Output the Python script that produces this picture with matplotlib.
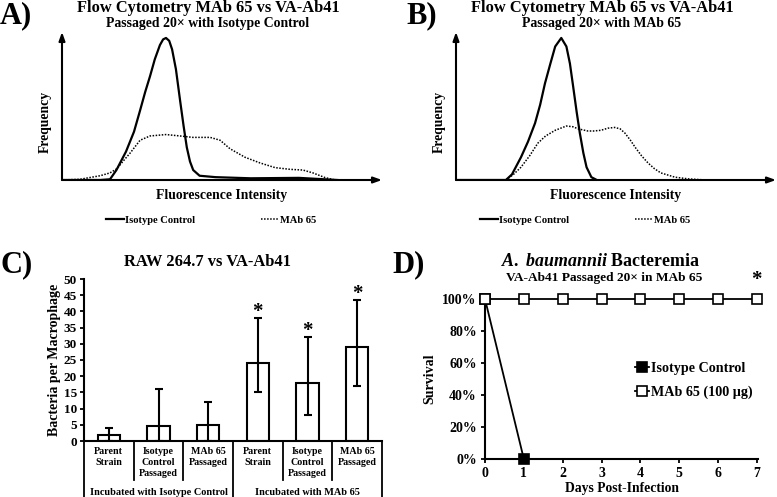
import matplotlib
matplotlib.use("Agg")
import matplotlib.pyplot as plt
import matplotlib.transforms as mtransforms
import numpy as np

plt.rcParams['font.family'] = ['Liberation Serif', 'DejaVu Serif']
plt.rcParams['font.weight'] = 'bold'
plt.rcParams['axes.labelweight'] = 'bold'
plt.rcParams['mathtext.fontset'] = 'custom'
plt.rcParams['mathtext.it'] = 'Liberation Serif:italic:bold'
plt.rcParams['mathtext.rm'] = 'Liberation Serif:bold'

# ---------------- data ----------------
# Panel A: flow cytometry, passaged with isotype control (relative intensity 0-100, frequency 0-1)
a_iso_x = [0, 12, 15, 17, 20, 22.5, 24.4, 26, 27.5, 29, 30.6, 31.6, 32.5, 33.5, 34.4, 35.6, 36.9, 38, 39, 40, 41, 43, 48, 59, 74, 82, 86]
a_iso_y = [0, 0, 0.005, 0.07, 0.2, 0.34, 0.49, 0.62, 0.73, 0.85, 0.95, 0.99, 1.0, 0.98, 0.92, 0.78, 0.56, 0.38, 0.23, 0.13, 0.07, 0.03, 0.02, 0.012, 0.015, 0.005, 0]
a_mab_x = [0, 5.6, 11.9, 15, 17.2, 19, 21.3, 24.4, 27.5, 32.5, 36.9, 40.9, 46.3, 49.4, 52.5, 57.2, 61.9, 66.6, 71.3, 75.3, 78.4, 82.2, 85.3]
a_mab_y = [0, 0.005, 0.03, 0.05, 0.08, 0.13, 0.19, 0.28, 0.31, 0.32, 0.31, 0.30, 0.30, 0.28, 0.22, 0.16, 0.12, 0.087, 0.075, 0.07, 0.05, 0.017, 0]

# Panel B: flow cytometry, passaged with MAb 65
b_iso_x = [0, 15.6, 17.5, 20.3, 22.5, 24.7, 26.3, 27.8, 29.5, 31, 32.9, 34.5, 35.6, 36.6, 37.7, 38.7, 39.8, 40.8, 42.3, 44]
b_iso_y = [0, 0, 0.04, 0.16, 0.27, 0.40, 0.53, 0.68, 0.82, 0.94, 1.0, 0.94, 0.82, 0.66, 0.48, 0.33, 0.19, 0.09, 0.02, 0]
b_mab_x = [15.6, 18, 20.3, 23, 25.6, 28, 31, 34.5, 36.5, 38.2, 41.2, 43, 45.3, 47.5, 49.6, 51.3, 52.8, 54.5, 56, 58, 60, 62, 64, 68.4, 72.5, 78]
b_mab_y = [0, 0.04, 0.09, 0.17, 0.26, 0.31, 0.35, 0.38, 0.375, 0.36, 0.345, 0.345, 0.35, 0.365, 0.37, 0.36, 0.33, 0.28, 0.23, 0.17, 0.12, 0.08, 0.05, 0.02, 0.008, 0]

flow_legend = ["Isotype Control", "MAb 65"]

# Panel C: bacteria per macrophage
c_categories = ["Parent\nStrain", "Isotype\nControl\nPassaged", "MAb 65\nPassaged",
                "Parent\nStrain", "Isotype\nControl\nPassaged", "MAb 65\nPassaged"]
c_groups = ["Incubated with Isotype Control", "Incubated with MAb 65"]
c_values = [2, 4.5, 5, 24, 18, 29]
c_err_low = [0, 0, 0, 15, 8, 17]
c_err_high = [4, 16, 12, 38, 32, 43.5]
c_signif = [False, False, False, True, True, True]

# Panel D: survival
d_days = [0, 1, 2, 3, 4, 5, 6, 7]
d_iso_days = [0, 1]
d_iso_surv = [1.0, 0.0]
d_mab_surv = [1.0, 1.0, 1.0, 1.0, 1.0, 1.0, 1.0, 1.0]
d_yticks = [0, 0.2, 0.4, 0.6, 0.8, 1.0]

# ---------------- figure ----------------
W, H = 777, 497
fig = plt.figure(figsize=(W / 100, H / 100), dpi=100)


def fx(px):
    return px / W


def fy(py):
    return 1 - py / H


def axes_px(left, right, top, bottom):
    return fig.add_axes([fx(left), fy(bottom), (right - left) / W, (bottom - top) / H])


def flow_panel(left, iso_x, iso_y, mab_x, mab_y, title, subtitle, letter, letter_x, legend_cx):
    ax = axes_px(left, left + 320, 32, 180)
    ax.set_xlim(0, 100)
    ax.set_ylim(0, 1.042)
    for s in ax.spines.values():
        s.set_visible(False)
    ax.set_xticks([])
    ax.set_yticks([])
    ax.patch.set_alpha(0)
    ap = dict(arrowstyle='-|>,head_length=0.5,head_width=0.18', lw=1.5, color='black',
              shrinkA=0, shrinkB=0)
    ax.annotate('', xy=(1, 0), xytext=(0, 0), xycoords='axes fraction', arrowprops=ap)
    ax.annotate('', xy=(0, 1), xytext=(0, 0), xycoords='axes fraction', arrowprops=ap)
    ax.plot(iso_x, iso_y, color='black', lw=1.6, label=flow_legend[0], solid_joinstyle='round')
    ax.plot(mab_x, mab_y, color='black', lw=1.1, ls=(0, (1, 1)), label=flow_legend[1])
    ax.text(0.5, -0.06, "Fluorescence Intensity", transform=ax.transAxes, ha='center', va='top',
            fontsize=9.8, fontweight='bold')
    ax.text(-0.053, 0.39, "Frequency", transform=ax.transAxes, ha='center', va='center',
            rotation=90, fontsize=9.8, fontweight='bold')
    cx = left + 146
    fig.text(fx(cx), fy(8), title, ha='center', va='center', fontsize=11.8, fontweight='bold')
    fig.text(fx(cx), fy(23), subtitle, ha='center', va='center', fontsize=9.9, fontweight='bold')
    fig.text(fx(letter_x), fy(16), letter, ha='left', va='center', fontsize=22, fontweight='bold')
    ax.legend(loc='center', bbox_to_anchor=((legend_cx - left) / 320, (180 - 220) / 148),
              ncol=2, frameon=False, fontsize=7.6, handlelength=1.7, handletextpad=0.1,
              columnspacing=6.2, borderpad=0)
    return ax


flow_panel(62, a_iso_x, a_iso_y, a_mab_x, a_mab_y, "Flow Cytometry MAb 65 vs VA-Ab41",
           "Passaged 20\u00d7 with Isotype Control", "A)", 0, 211)
flow_panel(456, b_iso_x, b_iso_y, b_mab_x, b_mab_y, "Flow Cytometry MAb 65 vs VA-Ab41",
           "Passaged 20\u00d7 with MAb 65", "B)", 406, 585)

# ---------------- Panel C ----------------
axc = axes_px(84, 382, 279, 441)
xpos = np.arange(len(c_values))
vals = np.array(c_values)
lo = vals - np.array(c_err_low)
hi = np.array(c_err_high) - vals
axc.bar(xpos, vals, width=0.45, color='white', edgecolor='black', lw=1.5, zorder=2)
axc.errorbar(xpos, vals, yerr=[lo, hi], fmt='none', ecolor='black', elinewidth=1.5,
             capsize=3, capthick=1.5, zorder=3)
for i, sig in enumerate(c_signif):
    if sig:
        axc.text(xpos[i], c_err_high[i] + 1.8, "*", ha='center', va='center', fontsize=15,
                 fontweight='bold')
axc.set_xlim(-0.5, len(c_values) - 0.5)
axc.set_ylim(0, 50)
axc.set_yticks(np.arange(0, 51, 5))
axc.set_xticks([])
axc.spines['top'].set_visible(False)
axc.spines['right'].set_visible(False)
axc.spines['left'].set_linewidth(1.5)
axc.spines['bottom'].set_linewidth(1.5)
axc.tick_params(axis='y', direction='out', length=3, width=1.3, labelsize=9.5, pad=2)
for lab in axc.get_yticklabels():
    lab.set_fontweight('bold')
axc.set_ylabel("Bacteria per Macrophage", fontsize=10, fontweight='bold', labelpad=2)
trans = mtransforms.blended_transform_factory(axc.transData, axc.transAxes)
n = len(c_values)
for k in range(n + 1):
    edge = k - 0.5
    bottom = -0.346 if k % 3 == 0 else -0.24
    axc.plot([edge, edge], [0, bottom], transform=trans, color='black', lw=1.3, clip_on=False)
for i, lab in enumerate(c_categories):
    axc.text(xpos[i], -0.04, lab, transform=trans, ha='center', va='top', fontsize=7.2,
             fontweight='bold', linespacing=1.25)
for g, lab in enumerate(c_groups):
    axc.text(g * 3 + 1, -0.315, lab, transform=trans, ha='center', va='center', fontsize=7.4,
             fontweight='bold')
fig.text(fx(207), fy(262), "RAW 264.7 vs VA-Ab41", ha='center', va='center', fontsize=11.9,
         fontweight='bold')
fig.text(fx(0), fy(265), "C)", ha='left', va='center', fontsize=22, fontweight='bold')

# ---------------- Panel D ----------------
axd = axes_px(485, 758, 299, 459)
axd.plot(d_iso_days, d_iso_surv, color='black', lw=1.3, marker='s', markersize=7.5,
         markerfacecolor='black', markeredgecolor='black', markeredgewidth=1.2,
         label="Isotype Control", clip_on=False, zorder=3)
axd.plot(d_days, d_mab_surv, color='black', lw=1.3, marker='s', markersize=7.5,
         markerfacecolor='white', markeredgecolor='black', markeredgewidth=1.2,
         label="MAb 65 (100 \u00b5g)", clip_on=False, zorder=4)
axd.set_xlim(0, 7.03)
axd.set_ylim(0, 1.0)
axd.set_xticks(d_days)
axd.set_yticks(d_yticks)
axd.set_yticklabels([f"{int(round(v * 100))}%" for v in d_yticks])
axd.spines['top'].set_visible(False)
axd.spines['right'].set_visible(False)
axd.spines['left'].set_linewidth(1.5)
axd.spines['bottom'].set_linewidth(1.5)
axd.tick_params(direction='out', length=3, width=1.3, labelsize=10, pad=3)
for lab in axd.get_yticklabels() + axd.get_xticklabels():
    lab.set_fontweight('bold')
axd.set_xlabel("Days Post-Infection", fontsize=9.8, fontweight='bold', labelpad=1)
axd.set_ylabel("Survival", fontsize=10, fontweight='bold', labelpad=4)
axd.text(7, 1.12, "*", ha='center', va='center', fontsize=15, fontweight='bold')
axd.legend(loc='center left', bbox_to_anchor=((628 - 485) / 273, 0.49), frameon=False,
           handlelength=1.0, handletextpad=0.1, labelspacing=0.75, borderpad=0,
           prop={'weight': 'bold', 'size': 10.2})
fig.text(fx(600), fy(262), r"$\mathit{A.\ baumannii}$ Bacteremia", ha='center', va='center',
         fontsize=12.9, fontweight='bold')
fig.text(fx(604), fy(278), "VA-Ab41 Passaged 20\u00d7 in MAb 65", ha='center', va='center',
         fontsize=9.6, fontweight='bold')
fig.text(fx(392), fy(265), "D)", ha='left', va='center', fontsize=22, fontweight='bold')

fig.savefig("out.png", dpi=100)
